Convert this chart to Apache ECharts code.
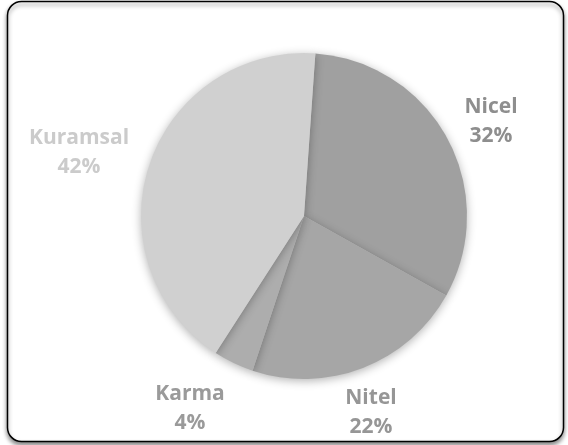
<!DOCTYPE html>
<html><head><meta charset="utf-8">
<script src="https://cdn.jsdelivr.net/npm/echarts@6/dist/echarts.min.js"></script>
<style>html,body{margin:0;padding:0;background:#fff}#c{width:568px;height:445px}</style>
</head><body><div id="c"></div>
<script>
const categories = ['Nicel', 'Nitel', 'Karma', 'Kuramsal'];
const values = [32, 22, 4, 42];
const sliceColors = ['#a0a0a0', '#a6a6a6', '#adadad', '#d0d0d0'];
const labelColors = ['#8e8e8e', '#969696', '#9a9a9a', '#cbcbcb'];
const labelPos = [[491, 122], [371, 413], [190, 409], [79, 153]];

const chart = echarts.init(document.getElementById('c'), null, {renderer: 'canvas'});
chart.setOption({
  backgroundColor: '#ffffff',
  animation: false,
  graphic: [{
    type: 'rect', z: -10,
    shape: {x: 7.5, y: 1.5, width: 556, height: 440, r: 14},
    style: {fill: '#ffffff', stroke: '#000000', lineWidth: 1.5,
            shadowBlur: 4, shadowOffsetY: 3, shadowColor: 'rgba(0,0,0,0.45)'}
  }],
  series: [{
    type: 'pie',
    center: [304, 216],
    radius: [0, 163],
    startAngle: 86,
    clockwise: true,
    data: categories.map((n, i) => ({
      name: n, value: values[i],
      itemStyle: {color: sliceColors[i]},
      label: {color: labelColors[i]}
    })),
    itemStyle: {borderWidth: 0, shadowBlur: 10, shadowOffsetY: 2, shadowColor: 'rgba(0,0,0,0.3)'},
    label: {
      show: true, position: 'outside',
      formatter: '{b}\n{d}%',
      fontFamily: 'Open Sans', fontWeight: 'bold', fontSize: 21, lineHeight: 29,
      align: 'center', overflow: 'none', width: 200
    },
    labelLine: {show: false},
    labelLayout: function (p) {
      const pos = labelPos[p.dataIndex];
      return {x: pos[0], y: pos[1], align: 'center', verticalAlign: 'middle', hideOverlap: false};
    },
    emphasis: {disabled: true}
  }]
});
</script></body></html>
